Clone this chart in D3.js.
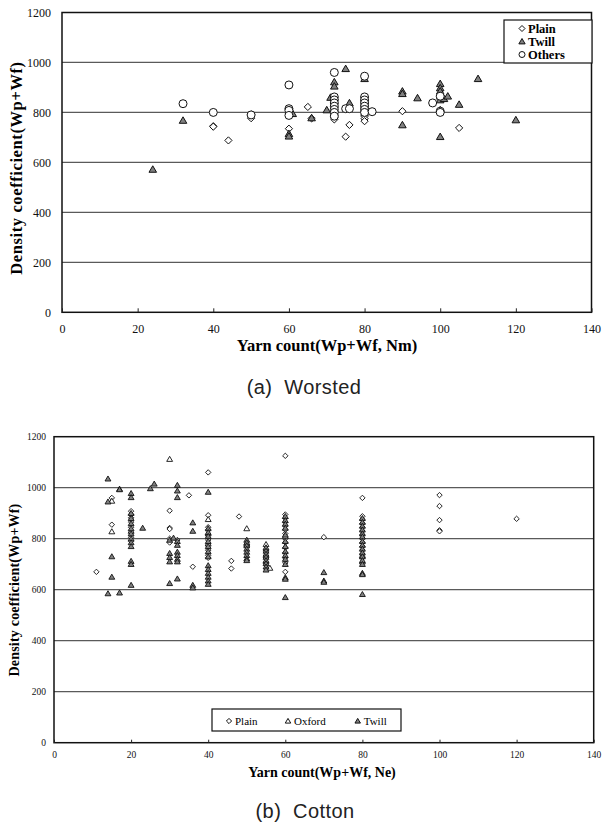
<!DOCTYPE html>
<html>
<head>
<meta charset="utf-8">
<script src="https://cdn.jsdelivr.net/npm/d3@7"></script>
<style>
  body { margin: 0; background: #fff; }
  svg { display: block; }
</style>
</head>
<body>
<svg id="chart" width="602" height="824"></svg>
<script>
// shared axis ticks
const xTicks = [0, 20, 40, 60, 80, 100, 120, 140];
const yTicks = [0, 200, 400, 600, 800, 1000, 1200];

// (a) worsted: [yarn count Nm, density coefficient]
const worstedPlain = [
  [40, 745], [40, 743], [44, 688], [50, 792], [50, 777], [60, 795], [60, 735],
  [65, 822], [66, 776], [72, 805], [72, 790], [72, 772], [75, 703], [76, 750],
  [80, 810], [80, 785], [80, 775], [80, 765], [90, 805], [100, 800], [105, 738]
];
const worstedTwill = [
  [24, 572], [32, 768], [61, 795], [60, 715], [60, 705], [66, 778], [70, 810],
  [71, 860], [72, 922], [72, 905], [72, 862], [72, 845], [72, 830], [72, 815],
  [72, 800], [72, 790], [75, 975], [76, 838], [80, 935], [80, 855], [80, 840],
  [80, 828], [80, 815], [80, 800], [90, 885], [90, 875], [90, 750], [94, 858],
  [100, 915], [100, 898], [100, 885], [100, 865], [100, 850], [100, 810],
  [100, 703], [101, 855], [102, 865], [105, 832], [110, 935], [120, 770]
];
const worstedOthers = [
  [32, 835], [40, 800], [50, 790], [60, 910], [60, 815], [60, 808], [60, 788],
  [72, 960], [72, 862], [72, 850], [72, 838], [72, 825], [72, 812], [72, 800],
  [72, 785], [75, 815], [76, 815], [80, 945], [80, 862], [80, 850], [80, 838],
  [80, 825], [80, 812], [80, 800], [82, 803], [98, 838], [100, 865], [100, 805],
  [100, 800]
];

// (b) cotton: [yarn count Ne, density coefficient]
const cottonPlain = [
  [11, 670], [15, 960], [15, 855], [20, 908], [20, 895], [20, 882], [20, 865],
  [20, 845], [20, 825], [20, 805], [20, 790], [30, 910], [30, 842], [30, 838],
  [30, 800], [30, 785], [32, 795], [35, 970], [36, 690], [40, 1060], [40, 892],
  [40, 845], [40, 835], [40, 815], [40, 795], [40, 775], [40, 755], [40, 735],
  [40, 725], [46, 713], [46, 683], [48, 887], [50, 770], [60, 1125], [60, 895],
  [60, 880], [60, 865], [60, 850], [60, 835], [60, 820], [60, 800], [60, 785],
  [60, 765], [60, 745], [60, 725], [60, 705], [60, 670], [70, 806], [80, 960],
  [80, 888], [80, 875], [80, 860], [80, 845], [80, 830], [80, 815], [80, 800],
  [80, 785], [80, 770], [80, 755], [80, 740], [80, 725], [100, 971], [100, 928],
  [100, 873], [100, 833], [100, 829], [120, 878]
];
const cottonOxford = [
  [15, 948], [15, 828], [20, 830], [30, 1112], [40, 876], [40, 820], [40, 780],
  [50, 840], [50, 780], [55, 778], [55, 760], [55, 735], [55, 710], [56, 685],
  [60, 810], [80, 735], [80, 710]
];
const cottonTwill = [
  [14, 1035], [14, 945], [14, 585], [15, 730], [15, 650], [17, 995], [17, 993],
  [17, 588], [20, 978], [20, 962], [20, 900], [20, 880], [20, 860], [20, 840],
  [20, 820], [20, 800], [20, 785], [20, 770], [20, 712], [20, 700], [20, 618],
  [23, 842], [25, 997], [26, 1015], [30, 795], [30, 743], [30, 727], [30, 710],
  [30, 625], [31, 803], [32, 1010], [32, 988], [32, 962], [32, 790], [32, 775],
  [32, 748], [32, 735], [32, 720], [32, 710], [32, 643], [36, 863], [36, 830],
  [36, 618], [36, 608], [40, 983], [40, 840], [40, 825], [40, 810], [40, 790],
  [40, 770], [40, 750], [40, 730], [40, 695], [40, 680], [40, 665], [40, 650],
  [40, 635], [40, 622], [50, 795], [50, 785], [50, 773], [50, 760], [50, 748],
  [50, 735], [50, 722], [50, 715], [55, 765], [55, 752], [55, 740], [55, 728],
  [55, 715], [55, 703], [55, 690], [55, 678], [60, 888], [60, 872], [60, 858],
  [60, 842], [60, 815], [60, 790], [60, 770], [60, 750], [60, 735], [60, 720],
  [60, 700], [60, 648], [60, 642], [60, 570], [70, 668], [70, 635], [70, 630],
  [80, 880], [80, 865], [80, 850], [80, 835], [80, 820], [80, 808], [80, 790],
  [80, 775], [80, 760], [80, 745], [80, 730], [80, 715], [80, 700], [80, 665],
  [80, 660], [80, 582]
];

const serif = "'Liberation Serif', 'Times New Roman', serif";
const sans = "'Liberation Sans', Arial, sans-serif";

// marker shapes, s = half size
const shapes = {
  diamond: s => `M0,${-s}L${s},0L0,${s}L${-s},0Z`,
  triangle: s => `M0,${-s}L${s * 1.05},${s * 0.8}L${-s * 1.05},${s * 0.8}Z`,
  circle: s => `M${s},0A${s},${s} 0 1,1 ${-s},0A${s},${s} 0 1,1 ${s},0Z`
};

const svg = d3.select("#chart");

function drawPanel(cfg) {
  const g = svg.append("g");
  const x = d3.scaleLinear().domain([0, 140]).range([cfg.left, cfg.right]);
  const y = d3.scaleLinear().domain([0, 1200]).range([cfg.bottom, cfg.top]);

  // gridlines
  g.append("g")
    .selectAll("line")
    .data(yTicks.filter(d => d > 0 && d < 1200))
    .join("line")
    .attr("x1", cfg.left).attr("x2", cfg.right)
    .attr("y1", d => y(d)).attr("y2", d => y(d))
    .attr("stroke", "#5a5a5a")
    .attr("stroke-width", 1.3);

  // plot frame
  g.append("rect")
    .attr("x", cfg.left).attr("y", cfg.top)
    .attr("width", cfg.right - cfg.left).attr("height", cfg.bottom - cfg.top)
    .attr("fill", "none")
    .attr("stroke", "#111")
    .attr("stroke-width", 1.5);

  // x axis, ticks pointing inward
  const xAxis = g.append("g")
    .attr("transform", `translate(0,${cfg.bottom})`)
    .call(d3.axisBottom(x).tickValues(xTicks).tickFormat(d3.format("d"))
      .tickSize(-cfg.tick).tickPadding(cfg.xPad));
  xAxis.select(".domain").remove();
  xAxis.selectAll("line").attr("stroke", "#222");
  xAxis.selectAll("text")
    .attr("font-family", serif)
    .attr("font-size", cfg.tickFont)
    .attr("fill", "#111");

  const yAxis = g.append("g")
    .attr("transform", `translate(${cfg.left},0)`)
    .call(d3.axisLeft(y).tickValues(yTicks).tickFormat(d3.format("d"))
      .tickSize(0).tickPadding(cfg.yPad));
  yAxis.select(".domain").remove();
  yAxis.selectAll("text")
    .attr("font-family", serif)
    .attr("font-size", cfg.tickFont)
    .attr("fill", "#111");

  // points
  cfg.series.forEach(s => {
    g.append("g")
      .selectAll("path")
      .data(s.data)
      .join("path")
      .attr("transform", d => `translate(${x(d[0])},${y(d[1])})`)
      .attr("d", shapes[s.shape](s.size))
      .attr("fill", s.fill)
      .attr("stroke", "#111")
      .attr("stroke-width", cfg.markStroke);
  });

  // axis titles
  g.append("text")
    .attr("x", cfg.xTitle[0]).attr("y", cfg.xTitle[1])
    .attr("text-anchor", "middle")
    .attr("font-family", serif)
    .attr("font-weight", "bold")
    .attr("font-size", cfg.titleFont)
    .text(cfg.xLabel);

  g.append("text")
    .attr("transform", `translate(${cfg.yTitle[0]},${cfg.yTitle[1]}) rotate(-90)`)
    .attr("text-anchor", "middle")
    .attr("font-family", serif)
    .attr("font-weight", "bold")
    .attr("font-size", cfg.titleFont)
    .attr("letter-spacing", cfg.yTitleSpacing)
    .text(cfg.yLabel);

  // legend
  const lg = cfg.legend;
  g.append("rect")
    .attr("x", lg.box[0]).attr("y", lg.box[1])
    .attr("width", lg.box[2]).attr("height", lg.box[3])
    .attr("fill", "#fff")
    .attr("stroke", "#111")
    .attr("stroke-width", 1.2);
  lg.items.forEach((it, i) => {
    const s = cfg.series[i];
    g.append("path")
      .attr("transform", `translate(${it[0]},${it[1]})`)
      .attr("d", shapes[s.shape](lg.mark))
      .attr("fill", s.fill)
      .attr("stroke", "#111")
      .attr("stroke-width", 1);
    g.append("text")
      .attr("x", it[0] + lg.gap).attr("y", it[1])
      .attr("dy", "0.35em")
      .attr("font-family", serif)
      .attr("font-weight", lg.weight)
      .attr("font-size", lg.font)
      .text(s.name);
  });

  // caption
  svg.append("text")
    .attr("x", cfg.caption[0]).attr("y", cfg.caption[1])
    .attr("text-anchor", "middle")
    .attr("font-family", sans)
    .attr("font-size", 20)
    .attr("letter-spacing", 0.4)
    .attr("fill", "#222")
    .attr("xml:space", "preserve")
    .text(cfg.captionText);
}

drawPanel({
  left: 62, right: 591.5, top: 12.5, bottom: 312.3,
  tick: 4, xPad: 12, yPad: 11, tickFont: 12, titleFont: 16.5, markStroke: 1,
  xLabel: "Yarn count(Wp+Wf, Nm)", xTitle: [327, 351],
  yLabel: "Density coefficient(Wp+Wf)", yTitle: [22, 168], yTitleSpacing: 0.6,
  series: [
    { name: "Plain", data: worstedPlain, shape: "diamond", size: 3.6, fill: "#fff" },
    { name: "Twill", data: worstedTwill, shape: "triangle", size: 3.6, fill: "#808080" },
    { name: "Others", data: worstedOthers, shape: "circle", size: 4, fill: "#fff" }
  ],
  legend: {
    box: [504, 20, 88, 43], font: 12.5, weight: "bold", mark: 3, gap: 6,
    items: [[522, 28.5], [522, 41.5], [522, 54.5]]
  },
  caption: [304, 394], captionText: "(a)  Worsted"
});

drawPanel({
  left: 54, right: 593.7, top: 436.7, bottom: 742.7,
  tick: 3, xPad: 9, yPad: 8, tickFont: 9.5, titleFont: 14, markStroke: 0.9,
  xLabel: "Yarn count(Wp+Wf, Ne)", xTitle: [322, 777],
  yLabel: "Density coefficient(Wp+Wf)", yTitle: [19, 590], yTitleSpacing: 0.2,
  series: [
    { name: "Plain", data: cottonPlain, shape: "diamond", size: 2.7, fill: "#fff" },
    { name: "Oxford", data: cottonOxford, shape: "triangle", size: 2.8, fill: "#fff" },
    { name: "Twill", data: cottonTwill, shape: "triangle", size: 2.8, fill: "#808080" }
  ],
  legend: {
    box: [212, 709, 189, 22], font: 11, weight: "normal", mark: 2.6, gap: 6,
    items: [[229, 721], [288, 721], [357.7, 721]]
  },
  caption: [305, 818], captionText: "(b)  Cotton"
});
</script>
</body>
</html>
